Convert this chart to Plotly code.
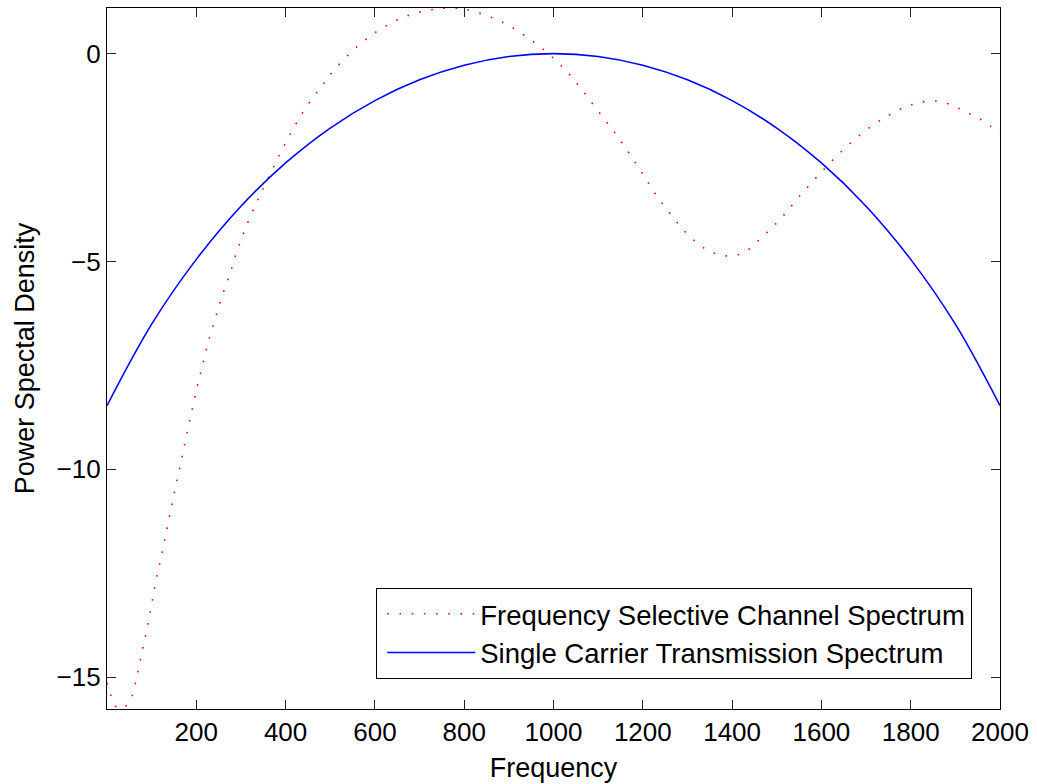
import plotly.graph_objects as go

# Frequency-selective channel response (dB) sampled along the band
red_freq = [0, 8, 19, 32, 52, 67, 78, 90, 100, 110, 122, 133, 144, 155, 167, 178,
            190, 202, 213, 226, 242, 258, 276, 293, 312, 334, 346, 370, 394, 420,
            449, 481, 505, 543, 584, 630, 680, 733, 773, 805, 857, 906, 952, 994,
            1033, 1067, 1102, 1138, 1169, 1199, 1229, 1262, 1297, 1337, 1362, 1395,
            1429, 1470, 1509, 1544, 1581, 1620, 1660, 1700, 1740, 1776, 1801, 1827,
            1855, 1881, 1906, 1931, 1955, 1978, 2000]
red_psd = [-15.14, -15.42, -15.70, -15.77, -15.56, -14.98, -14.41, -13.82, -13.25,
           -12.66, -12.08, -11.50, -10.92, -10.34, -9.76, -9.18, -8.60, -8.01, -7.54,
           -6.97, -6.39, -5.83, -5.27, -4.70, -4.15, -3.61, -3.34, -2.80, -2.27, -1.75,
           -1.24, -0.78, -0.44, 0.00, 0.38, 0.70, 0.94, 1.07, 1.10, 1.06, 0.89, 0.64,
           0.31, -0.05, -0.47, -0.92, -1.41, -1.91, -2.39, -2.88, -3.39, -3.86, -4.31,
           -4.68, -4.81, -4.87, -4.77, -4.38, -3.97, -3.52, -3.07, -2.62, -2.20, -1.84,
           -1.55, -1.34, -1.23, -1.16, -1.14, -1.20, -1.31, -1.44, -1.57, -1.74, -1.92]

# Single carrier transmission spectrum (dB)
blue_freq = [0, 100, 200, 300, 400, 500, 600, 700, 800, 900, 1000,
             1100, 1200, 1300, 1400, 1500, 1600, 1700, 1800, 1900, 2000]
blue_psd = [-8.47, -6.51, -4.95, -3.67, -2.63, -1.79, -1.13, -0.63, -0.28, -0.07, 0.0,
            -0.07, -0.28, -0.63, -1.13, -1.79, -2.63, -3.67, -4.95, -6.51, -8.47]

x_ticks = [200, 400, 600, 800, 1000, 1200, 1400, 1600, 1800, 2000]
y_ticks = [-15, -10, -5, 0]

FONT = "Liberation Sans, Arial, Helvetica, sans-serif"

fig = go.Figure()
fig.add_trace(go.Scatter(
    x=red_freq, y=red_psd, mode="lines", line_shape="spline",
    name="Frequency Selective Channel Spectrum",
    line=dict(color="#ff0000", width=1.6, dash="1.6px,10.6px"),
))
fig.add_trace(go.Scatter(
    x=blue_freq, y=blue_psd, mode="lines", line_shape="spline",
    name="Single Carrier Transmission Spectrum",
    line=dict(color="#0000ff", width=1.6),
))

axis_common = dict(
    showline=True, linecolor="black", linewidth=1.3, mirror="ticks",
    ticks="inside", ticklen=9, tickwidth=1.2, tickcolor="#222",
    showgrid=False, zeroline=False,
    tickfont=dict(family=FONT, size=26, color="black"),
)

fig.update_layout(
    width=1037, height=784,
    margin=dict(l=107, r=37, t=7, b=73),
    paper_bgcolor="white", plot_bgcolor="white",
    font=dict(family=FONT, size=27, color="black"),
    xaxis=dict(range=[0, 2000], tickvals=x_ticks,
               title=dict(text="Frequency", standoff=11,
                          font=dict(family=FONT, size=27)),
               **axis_common),
    yaxis=dict(range=[-15.77, 1.099], tickvals=y_ticks,
               title=dict(text="Power Spectal Density", standoff=14,
                          font=dict(family=FONT, size=27)),
               **axis_common),
    legend=dict(
        x=0.9686, y=0.0426, xanchor="right", yanchor="bottom",
        bgcolor="white", bordercolor="black", borderwidth=1.3,
        font=dict(family=FONT, size=27.5, color="black"),
        itemwidth=88, indentation=5, tracegroupgap=0,
    ),
    showlegend=True,
)

fig.write_html("out.html")
